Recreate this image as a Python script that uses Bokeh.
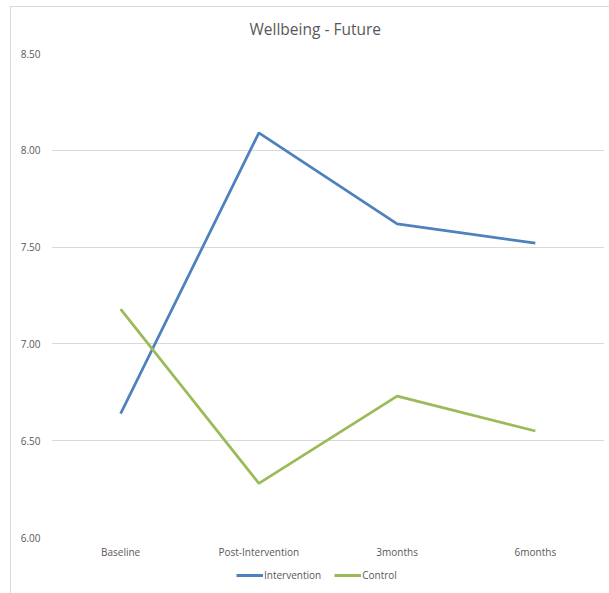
from bokeh.plotting import figure
from bokeh.layouts import column
from bokeh.models import (FactorRange, Range1d, FixedTicker, NumeralTickFormatter,
                          Legend, LegendItem)
from bokeh.embed import file_html
from bokeh.resources import INLINE

# Wellbeing (future) scores per assessment point
categories = ["Baseline", "Post-Intervention", "3months", "6months"]
intervention = [6.64, 8.09, 7.62, 7.52]
control = [7.18, 6.28, 6.73, 6.55]
y_ticks = [6.0, 6.5, 7.0, 7.5, 8.0, 8.5]
series_names = ["Intervention", "Control"]

BLUE = "#4F81BD"
GREEN = "#9BBB59"
TEXT = "#595959"
GRID = "#D9D9D9"
FONT = "Open Sans"

p = figure(
    width=609, height=563,
    x_range=FactorRange(*categories),
    y_range=Range1d(6.0, 8.5),
    output_backend="svg", toolbar_location=None,
    min_border_left=51, min_border_right=5,
    min_border_top=53, min_border_bottom=26,
)

p.title.text = "Wellbeing - Future"
p.title.align = "left"
p.title.offset = 198
p.title.text_font = FONT
p.title.text_font_size = "15.5px"
p.title.text_font_style = "normal"
p.title.text_color = TEXT
p.title.standoff = 28

p.outline_line_color = None
p.background_fill_color = "white"
p.border_fill_alpha = 0

p.xgrid.grid_line_color = None
p.ygrid.grid_line_color = GRID
p.ygrid.grid_line_width = 1

p.yaxis.ticker = FixedTicker(ticks=y_ticks)
p.yaxis.formatter = NumeralTickFormatter(format="0.00")
for ax in (p.xaxis, p.yaxis):
    ax.axis_line_color = None
    ax.major_tick_line_color = None
    ax.minor_tick_line_color = None
    ax.major_tick_out = 0
    ax.major_tick_in = 0
    ax.minor_tick_out = 0
    ax.major_label_text_font = FONT
    ax.major_label_text_font_size = "10px"
    ax.major_label_text_color = TEXT
p.yaxis.major_label_standoff = 11
p.xaxis.major_label_standoff = 7

p.line(categories, intervention, line_color=BLUE, line_width=2.75)
p.line(categories, control, line_color=GREEN, line_width=2.75)

# strip under the chart that carries the horizontal legend; its y range is
# kept far from the data so the series lines only feed the legend keys
lg = figure(
    width=609, height=30,
    x_range=FactorRange(*categories), y_range=Range1d(100, 101),
    output_backend="svg", toolbar_location=None,
    min_border=0,
)
lg.axis.visible = False
lg.grid.visible = False
lg.outline_line_color = None
lg.background_fill_alpha = 0
lg.border_fill_alpha = 0

key_int = lg.line(categories, intervention, line_color=BLUE, line_width=3)
key_ctl = lg.line(categories, control, line_color=GREEN, line_width=3)

legend = Legend(
    items=[LegendItem(label=series_names[0], renderers=[key_int]),
           LegendItem(label=series_names[1], renderers=[key_ctl])],
    orientation="horizontal", location=(185, 11),
    glyph_width=27, glyph_height=14, label_standoff=1, spacing=13,
    padding=0, margin=0,
    border_line_color=None, background_fill_alpha=0,
    label_text_font=FONT, label_text_font_size="10px", label_text_color=TEXT,
)
lg.add_layout(legend)

layout = column(p, lg, spacing=0)
# chart-area border (left and top edges), painted behind the transparent canvases
layout.styles = {
    "background-color": "white",
    "background-image": f"linear-gradient({GRID},{GRID}), linear-gradient({GRID},{GRID})",
    "background-size": "1px 100%, 100% 1px",
    "background-position": "10px 6px, 10px 6px",
    "background-repeat": "no-repeat",
}

open("out.html", "w").write(file_html(layout, INLINE))
